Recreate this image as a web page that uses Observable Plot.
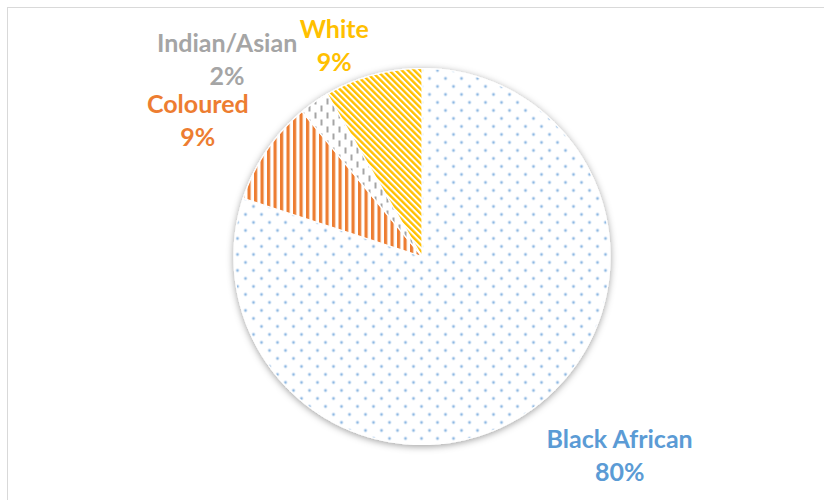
<!DOCTYPE html>
<html>
<head>
<meta charset="utf-8">
<script src="https://cdn.jsdelivr.net/npm/d3@7"></script>
<script src="https://cdn.jsdelivr.net/npm/@observablehq/plot@0.6"></script>
<style>
  html, body { margin: 0; padding: 0; background: #fff; overflow: hidden; }
  #wrap { position: relative; width: 824px; height: 500px; }
  #border { position: absolute; left: 7px; top: 7px; width: 840px; height: 520px;
            border: 1.5px solid #d9d9d9; box-sizing: border-box; }
  #chart { position: absolute; left: 0; top: 0; }
</style>
</head>
<body>
<div id="wrap"><div id="border"></div><div id="chart"></div></div>
<script>
// ---- data ----
const categories = ["Black African", "Coloured", "Indian/Asian", "White"];
const shares = [80.0, 9.0, 2.6, 8.4];
const shareLabels = ["80%", "9%", "2%", "9%"];

// ---- styles / layout ----
const labelColors = ["#5b9bd5", "#ed7d31", "#a5a5a5", "#ffc000"];
const patternIds = ["url(#pDots)", "url(#pVert)", "url(#pDash)", "url(#pDiag)"];
const labelNudge = [[54, 0], [-22, 0], [-55, 2], [-24, 23]];
const labelRadius = 1.3;

const data = categories.map((name, i) => ({name, share: shares[i], label: shareLabels[i]}));
const arcs = d3.pie().sort(null).value(d => d.share)(data);

// wedge outlines (through x/y scales)
const pts = [];
arcs.forEach(a => {
  const name = a.data.name;
  pts.push({name, x: 0, y: 0});
  const n = Math.max(2, Math.ceil((a.endAngle - a.startAngle) / 0.01));
  for (let k = 0; k <= n; k++) {
    const t = a.startAngle + (a.endAngle - a.startAngle) * k / n;
    pts.push({name, x: Math.sin(t), y: Math.cos(t)});
  }
  pts.push({name, x: 0, y: 0});
});

const textMarks = arcs.map((a, i) => {
  const mid = (a.startAngle + a.endAngle) / 2;
  return Plot.text([a.data], {
    x: () => labelRadius * Math.sin(mid),
    y: () => labelRadius * Math.cos(mid),
    text: d => d.name + "\n" + d.label,
    dx: labelNudge[i][0], dy: labelNudge[i][1],
    fill: labelColors[i],
    fontSize: 25, fontWeight: "bold", fontFamily: "Lato",
    lineAnchor: "middle", textAnchor: "middle", lineHeight: 1.33
  });
});

const chart = Plot.plot({
  width: 824, height: 500,
  marginLeft: 233.5, marginRight: 214.5, marginTop: 68, marginBottom: 56,
  x: {domain: [-1, 1], axis: null},
  y: {domain: [-1, 1], axis: null},
  color: {domain: categories, range: patternIds},
  style: {background: "transparent", overflow: "visible"},
  marks: [
    Plot.line(pts, {x: "x", y: "y", z: "name", fill: "name", stroke: "white",
                    strokeWidth: 1.2, curve: "linear"}),
    ...textMarks
  ]
});

// defs: patterns and shadow
const ns = "http://www.w3.org/2000/svg";
const defs = document.createElementNS(ns, "defs");
defs.innerHTML = `
  <pattern id="pDots" patternUnits="userSpaceOnUse" width="16" height="16" x="1" y="2">
    <rect width="16" height="16" fill="#fff"/>
    <circle cx="4" cy="4" r="1.45" fill="#8fb9e3"/>
    <circle cx="12" cy="12" r="1.45" fill="#8fb9e3"/>
  </pattern>
  <pattern id="pVert" patternUnits="userSpaceOnUse" width="6.5" height="10">
    <rect width="6.5" height="10" fill="#fff"/>
    <rect width="3.2" height="10" fill="#ed7d31"/>
  </pattern>
  <pattern id="pDash" patternUnits="userSpaceOnUse" width="12" height="14">
    <rect width="12" height="14" fill="#fff"/>
    <rect x="2" y="0" width="2" height="6" fill="#a5a5a5"/>
    <rect x="8" y="7" width="2" height="6" fill="#a5a5a5"/>
  </pattern>
  <pattern id="pDiag" patternUnits="userSpaceOnUse" width="4.4" height="10" patternTransform="rotate(-45)">
    <rect width="4.4" height="10" fill="#fff"/>
    <rect width="2.4" height="10" fill="#ffc000"/>
  </pattern>
  <filter id="shadow" x="-20%" y="-20%" width="140%" height="140%">
    <feDropShadow dx="0" dy="1.5" stdDeviation="3.5" flood-color="#000" flood-opacity="0.38"/>
  </filter>`;
chart.insertBefore(defs, chart.firstChild);
const lineG = chart.querySelector('g[aria-label="line"]');
if (lineG) lineG.setAttribute("filter", "url(#shadow)");

document.getElementById("chart").appendChild(chart);
</script>
</body>
</html>
